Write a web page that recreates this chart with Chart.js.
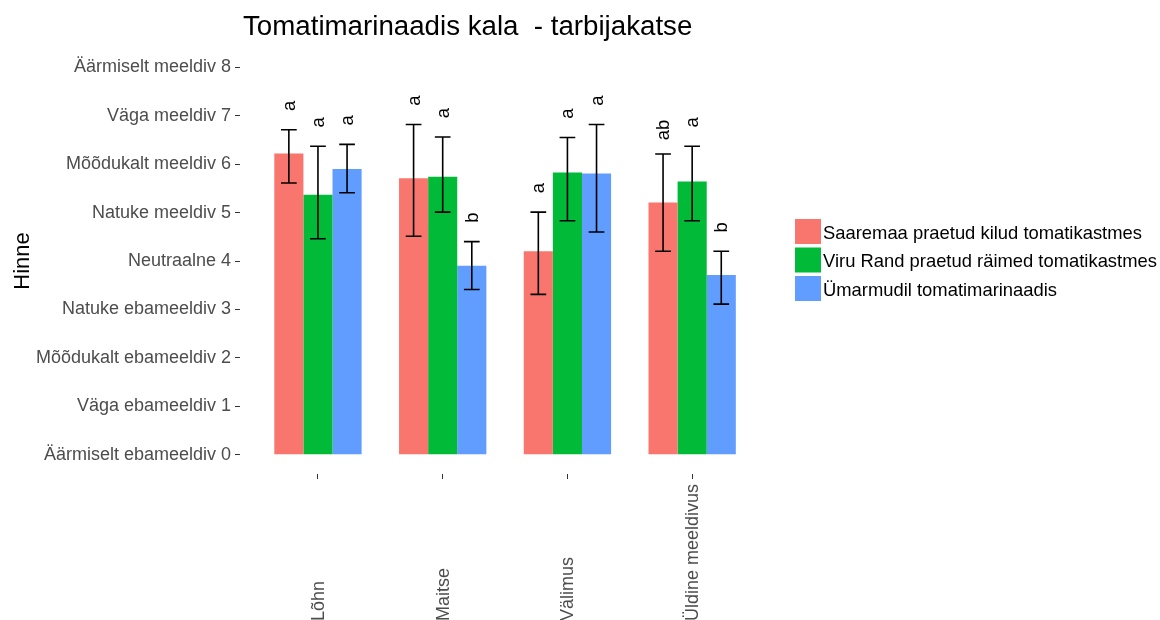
<!DOCTYPE html>
<html lang="et">
<head>
    <meta charset="UTF-8">
    <title>Tomatimarinaadis kala - tarbijakatse</title>
    <script src="https://cdn.jsdelivr.net/npm/chart.js"></script>
    <style>
        body { margin: 0; background: #ffffff; }
    </style>
</head>
<body>
    <canvas id="chart" width="1160" height="620"></canvas>

    <script>
        // Data
        const categories = ['Lõhn', 'Maitse', 'Välimus', 'Üldine meeldivus'];
        const seriesNames = [
            'Saaremaa praetud kilud tomatikastmes',
            'Viru Rand praetud räimed tomatikastmes',
            'Ümarmudil tomatimarinaadis'
        ];
        const saaremaa = [6.22, 5.71, 4.2, 5.21];
        const viruRand = [5.37, 5.74, 5.83, 5.64];
        const umarmudil = [5.9, 3.9, 5.81, 3.71];
        // error bar ends (lower / upper)
        const lowSaaremaa = [5.61, 4.51, 3.31, 4.2];
        const highSaaremaa = [6.71, 6.82, 5.01, 6.21];
        const lowViruRand = [4.46, 5.01, 4.83, 4.83];
        const highViruRand = [6.37, 6.56, 6.55, 6.37];
        const lowUmarmudil = [5.41, 3.41, 4.6, 3.11];
        const highUmarmudil = [6.41, 4.4, 6.82, 4.2];
        // significance letters above the bars
        const lettersSaaremaa = ['a', 'a', 'a', 'ab'];
        const lettersViruRand = ['a', 'a', 'a', 'a'];
        const lettersUmarmudil = ['a', 'b', 'a', 'b'];
        const yTickLabels = [
            'Äärmiselt ebameeldiv 0', 'Väga ebameeldiv 1', 'Mõõdukalt ebameeldiv 2',
            'Natuke ebameeldiv 3', 'Neutraalne 4', 'Natuke meeldiv 5',
            'Mõõdukalt meeldiv 6', 'Väga meeldiv 7', 'Äärmiselt meeldiv 8'
        ];
        const titleText = 'Tomatimarinaadis kala  - tarbijakatse';
        const yTitle = 'Hinne';

        const colors = ['#F8766D', '#00BA38', '#619CFF'];
        const values = [saaremaa, viruRand, umarmudil];
        const lows = [lowSaaremaa, lowViruRand, lowUmarmudil];
        const highs = [highSaaremaa, highViruRand, highUmarmudil];
        const letters = [lettersSaaremaa, lettersViruRand, lettersUmarmudil];

        const FONT = "'Liberation Sans', Arial, sans-serif";
        const TICK_COLOR = '#4d4d4d';
        Chart.defaults.font.family = FONT;

        // Error bars, letters, title, axis labels and legend
        const overlay = {
            id: 'overlay',
            afterDatasetsDraw(chart) {
                const ctx = chart.ctx;
                const xs = chart.scales.x;
                const ys = chart.scales.y;
                ctx.save();

                chart.data.datasets.forEach((ds, d) => {
                    const meta = chart.getDatasetMeta(d);
                    meta.data.forEach((bar, i) => {
                        const top = ys.getPixelForValue(highs[d][i]);
                        const bot = ys.getPixelForValue(lows[d][i]);
                        const hw = bar.width * 0.27;
                        ctx.strokeStyle = '#000';
                        ctx.lineWidth = 1.6;
                        ctx.beginPath();
                        ctx.moveTo(bar.x, top); ctx.lineTo(bar.x, bot);
                        ctx.moveTo(bar.x - hw, top); ctx.lineTo(bar.x + hw, top);
                        ctx.moveTo(bar.x - hw, bot); ctx.lineTo(bar.x + hw, bot);
                        ctx.stroke();

                        ctx.save();
                        ctx.translate(bar.x + 6, top - 24);
                        ctx.rotate(-Math.PI / 2);
                        ctx.fillStyle = '#000';
                        ctx.font = '18.5px ' + FONT;
                        ctx.textAlign = 'center';
                        ctx.textBaseline = 'alphabetic';
                        ctx.fillText(letters[d][i], 0, 0);
                        ctx.restore();
                    });
                });

                // x labels, rotated, starting at the bottom
                categories.forEach((c, i) => {
                    ctx.save();
                    ctx.translate(xs.getPixelForValue(i + 1) + 6, 621);
                    ctx.rotate(-Math.PI / 2);
                    ctx.fillStyle = TICK_COLOR;
                    ctx.font = '18px ' + FONT;
                    ctx.textAlign = 'left';
                    ctx.textBaseline = 'alphabetic';
                    ctx.fillText(c, 0, 0);
                    ctx.restore();
                });

                // title
                ctx.fillStyle = '#000';
                ctx.font = '27.7px ' + FONT;
                ctx.textAlign = 'left';
                ctx.textBaseline = 'alphabetic';
                ctx.fillText(titleText, 243, 35);

                // y title
                ctx.save();
                ctx.translate(29, 261);
                ctx.rotate(-Math.PI / 2);
                ctx.font = '22px ' + FONT;
                ctx.textAlign = 'center';
                ctx.fillText(yTitle, 0, 0);
                ctx.restore();

                // legend
                ctx.font = '18.4px ' + FONT;
                chart.data.datasets.forEach((ds, d) => {
                    const by = 219 + d * 28.5;
                    ctx.fillStyle = ds.backgroundColor;
                    ctx.fillRect(795, by, 26, 25);
                    ctx.fillStyle = '#000';
                    ctx.fillText(ds.label, 823, by + 19.5);
                });

                ctx.restore();
            }
        };

        const ctx = document.getElementById('chart').getContext('2d');
        new Chart(ctx, {
            type: 'bar',
            data: {
                datasets: seriesNames.map((name, d) => ({
                    label: name,
                    data: values[d].map((v, i) => ({ x: i + 1, y: v })),
                    backgroundColor: colors[d],
                    borderWidth: 0,
                    categoryPercentage: 0.7,
                    barPercentage: 1.0
                }))
            },
            options: {
                responsive: false,
                animation: false,
                layout: { padding: { top: 48, right: 393, left: 0, bottom: 0 } },
                plugins: {
                    legend: { display: false },
                    title: { display: false },
                    tooltip: { enabled: false }
                },
                scales: {
                    x: {
                        type: 'linear',
                        min: 0.375,
                        max: 4.6,
                        offset: false,
                        afterBuildTicks: s => { s.ticks = categories.map((c, i) => ({ value: i + 1 })); },
                        afterFit: s => { s.height = 146; },
                        border: { display: false },
                        grid: {
                            offset: false,
                            drawOnChartArea: false,
                            drawTicks: true,
                            tickLength: 5,
                            color: '#333333'
                        },
                        ticks: { display: false }
                    },
                    y: {
                        min: -0.4,
                        max: 8.4,
                        afterBuildTicks: s => { s.ticks = yTickLabels.map((t, i) => ({ value: i })); },
                        afterFit: s => { s.width = 240; },
                        border: { display: false },
                        grid: {
                            drawOnChartArea: false,
                            drawTicks: true,
                            tickLength: 5,
                            color: '#333333'
                        },
                        ticks: {
                            padding: 4,
                            color: TICK_COLOR,
                            font: { size: 18 },
                            callback: v => yTickLabels[v]
                        }
                    }
                }
            },
            plugins: [overlay]
        });
    </script>
</body>
</html>
